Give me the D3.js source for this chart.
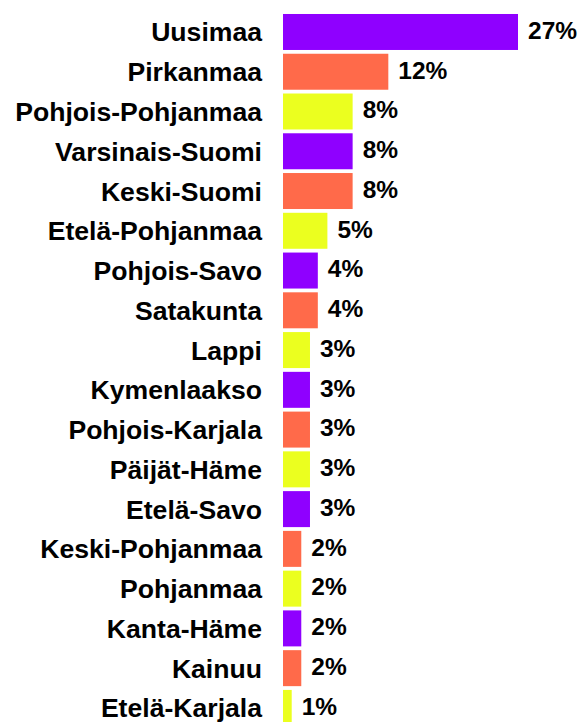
<!DOCTYPE html>
<html>
<head>
<meta charset="utf-8">
<script src="https://cdn.jsdelivr.net/npm/d3@7"></script>
<style>
  html, body { margin: 0; padding: 0; background: #fff; }
  svg { display: block; }
</style>
</head>
<body>
<div id="chart"></div>
<script>
// Regions, share of total (%)
const regions = [
  "Uusimaa", "Pirkanmaa", "Pohjois-Pohjanmaa", "Varsinais-Suomi", "Keski-Suomi",
  "Etelä-Pohjanmaa", "Pohjois-Savo", "Satakunta", "Lappi", "Kymenlaakso",
  "Pohjois-Karjala", "Päijät-Häme", "Etelä-Savo", "Keski-Pohjanmaa", "Pohjanmaa",
  "Kanta-Häme", "Kainuu", "Etelä-Karjala"
];
const shares = [27, 12.1, 8, 8, 8, 5.1, 4, 4, 3.1, 3.1, 3.1, 3.1, 3.1, 2.1, 2.1, 2.1, 2.1, 1];
const palette = ["#8f00ff", "#ff6a4a", "#ebff1f"];

const width = 579;
const height = 722;
const barLeft = 283;

const svg = d3.select("#chart")
  .append("svg")
  .attr("width", width)
  .attr("height", height);

const x = d3.scaleLinear()
  .domain([0, 27])
  .range([0, 235]);

const y = d3.scaleBand()
  .domain(regions)
  .range([12.1, 727.8])
  .paddingInner(0.095)
  .paddingOuter(0.0475);

const rows = regions.map((name, i) => ({ name, value: shares[i], i }));

// ── Bars ──
svg.append("g")
  .selectAll("rect")
  .data(rows)
  .join("rect")
  .attr("x", barLeft)
  .attr("y", (d) => y(d.name))
  .attr("width", (d) => x(d.value))
  .attr("height", y.bandwidth())
  .attr("fill", (d) => palette[d.i % 3]);

// ── Category labels ──
svg.append("g")
  .selectAll("text")
  .data(rows)
  .join("text")
  .attr("x", barLeft - 21)
  .attr("y", (d) => y(d.name) + y.bandwidth() / 2 + 9.5)
  .attr("text-anchor", "end")
  .attr("font-family", "'Liberation Sans', Arial, sans-serif")
  .attr("font-weight", "bold")
  .attr("font-size", "26.6px")
  .attr("fill", "#000")
  .text((d) => d.name);

// ── Value labels ──
svg.append("g")
  .selectAll("text")
  .data(rows)
  .join("text")
  .attr("x", (d) => barLeft + x(d.value) + 10)
  .attr("y", (d) => y(d.name) + y.bandwidth() / 2 + 6.8)
  .attr("font-family", "'Liberation Sans', Arial, sans-serif")
  .attr("font-weight", "bold")
  .attr("font-size", "24.5px")
  .attr("fill", "#000")
  .text((d) => Math.round(d.value) + "%");
</script>
</body>
</html>
